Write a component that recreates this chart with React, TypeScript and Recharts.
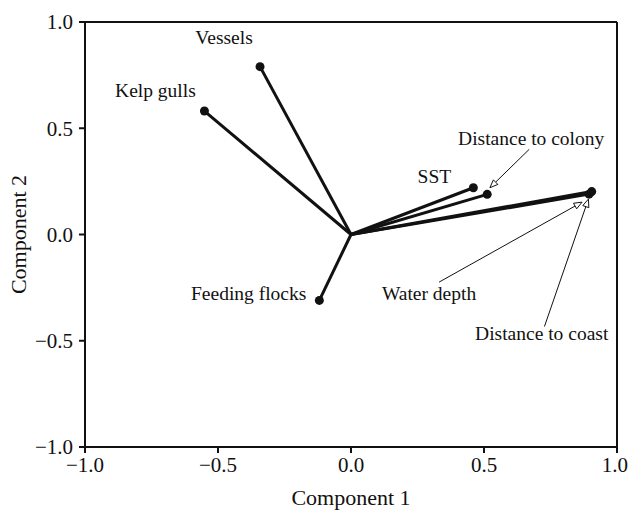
import React from 'react';
import { ScatterChart, Scatter, XAxis, YAxis, ReferenceLine } from 'recharts';

const variables = ['Vessels', 'Kelp gulls', 'Feeding flocks', 'SST', 'Distance to colony', 'Water depth', 'Distance to coast'];
const component1 = [-0.342, -0.551, -0.119, 0.46, 0.512, 0.895, 0.905];
const component2 = [0.79, 0.581, -0.31, 0.22, 0.189, 0.19, 0.202];
const axisTicks = [-1, -0.5, 0, 0.5, 1];

const ink = '#111';
const serif = '"Liberation Serif", "Times New Roman", Times, serif';

// where each name sits relative to its vector tip (px); some get a leader arrow
const labelSpots: Record<string, { dx: number; dy: number; anchor?: string; leader?: number[] }> = {
  'Vessels': { dx: -36, dy: -29 },
  'Kelp gulls': { dx: -49, dy: -21 },
  'Feeding flocks': { dx: -13, dy: -7, anchor: 'end' },
  'SST': { dx: -39, dy: -11 },
  'Distance to colony': { dx: 44, dy: -56, leader: [42, -45, 2.7, -6.6] },
  'Water depth': { dx: -160, dy: 99, leader: [-150, 88, -7, 8] },
  'Distance to coast': { dx: -50, dy: 142, leader: [-47.3, 135, -3.3, 7.5] },
};

const points = variables.map((name, i) => ({ name, x: component1[i], y: component2[i] }));

const fmt = (v: number) => v.toFixed(1).replace('-', '\u2212');

const Arrow = ({ x1, y1, x2, y2 }: { x1: number; y1: number; x2: number; y2: number }) => {
  const a = Math.atan2(y2 - y1, x2 - x1);
  const L = 8, W = 3.2;
  const ux = Math.cos(a), uy = Math.sin(a);
  const bx = x2 - L * ux, by = y2 - L * uy;
  const pts = `${x2},${y2} ${bx - W * uy},${by + W * ux} ${bx + W * uy},${by - W * ux}`;
  return (
    <g>
      <line x1={x1} y1={y1} x2={bx} y2={by} stroke={ink} strokeWidth={1} />
      <polygon points={pts} fill="#fff" stroke={ink} strokeWidth={1} />
    </g>
  );
};

const TipShape = (props: any) => {
  const { cx, cy, payload } = props;
  const spot = labelSpots[payload.name];
  const l = spot.leader;
  return (
    <g>
      <circle cx={cx} cy={cy} r={4.5} fill={ink} />
      {l && <Arrow x1={cx + l[0]} y1={cy + l[1]} x2={cx + l[2]} y2={cy + l[3]} />}
      <text
        x={cx + spot.dx}
        y={cy + spot.dy}
        textAnchor={spot.anchor || 'middle'}
        dominantBaseline="central"
        fontFamily={serif}
        fontSize={19.5}
        fill={ink}
      >
        {payload.name}
      </text>
    </g>
  );
};

const App = () => {
  return (
    <div style={{ position: 'absolute', left: 0, top: 0, background: '#fff' }}>
      <ScatterChart width={628} height={510} margin={{ top: 22, right: 11, left: 0, bottom: 0 }}>
        <XAxis
          type="number"
          dataKey="x"
          domain={[-1, 1]}
          ticks={axisTicks}
          tickFormatter={fmt}
          height={63}
          stroke={ink}
          strokeWidth={2}
          tickSize={6}
          tickMargin={4}
          tick={{ fill: ink, fontSize: 21, fontFamily: serif }}
          label={{
            content: ({ viewBox }: any) => (
              <text x={viewBox.x + viewBox.width / 2} y={497} textAnchor="middle" dominantBaseline="central"
                fontFamily={serif} fontSize={22} fill={ink}>Component 1</text>
            ),
          }}
        />
        <YAxis
          type="number"
          dataKey="y"
          domain={[-1, 1]}
          ticks={axisTicks}
          tickFormatter={fmt}
          width={85}
          stroke={ink}
          strokeWidth={2}
          tickSize={6}
          tickMargin={6}
          tick={{ fill: ink, fontSize: 21, fontFamily: serif }}
          label={{
            content: ({ viewBox }: any) => {
              const cy = viewBox.y + viewBox.height / 2;
              return (
                <text x={18} y={cy} transform={`rotate(-90, 18, ${cy})`} textAnchor="middle" dominantBaseline="central"
                  fontFamily={serif} fontSize={22} fill={ink}>Component 2</text>
              );
            },
          }}
        />
        <ReferenceLine y={1} stroke={ink} strokeWidth={2} />
        <ReferenceLine x={1} stroke={ink} strokeWidth={2} />
        {points.map((p) => (
          <ReferenceLine
            key={p.name}
            segment={[{ x: 0, y: 0 }, { x: p.x, y: p.y }]}
            stroke={ink}
            strokeWidth={3}
          />
        ))}
        <Scatter data={points} shape={TipShape} isAnimationActive={false} />
      </ScatterChart>
    </div>
  );
};

export default App;
